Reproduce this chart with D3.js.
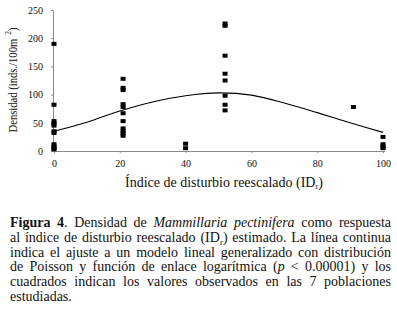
<!DOCTYPE html>
<html>
<head>
<meta charset="utf-8">
<script src="https://cdn.jsdelivr.net/npm/d3@7"></script>
<style>
  body { margin: 0; background: #fff; }
  svg, svg text { font-family: "Liberation Serif", "Times New Roman", Times, "DejaVu Serif", serif; }
</style>
</head>
<body>
<div id="chart"></div>
<script>
// observed densities per site (rescaled disturbance index)
var sites = [0, 21, 40, 52, 91, 100];
var densities = [
    [190, 82, 53, 49, 45, 35, 32, 12, 8, 5, 3],
    [128, 112, 108, 83, 78, 67, 53, 40, 35, 31, 27],
    [13, 5],
    [226, 222, 169, 137, 125, 98, 82, 72],
    [78],
    [25, 12, 8, 5]
];
// fitted GLM curve
var fitX = [0, 10, 20, 30, 40, 50, 60, 70, 80, 90, 100];
var fitY = [35, 51, 71, 87, 98, 103, 99, 85, 68, 50, 33];

var xTicks = [0, 20, 40, 60, 80, 100];
var yTicks = [0, 50, 100, 150, 200, 250];

var caption = [
    [{t: "Figura 4", w: "bold"}, {t: ". Densidad de "}, {t: "Mammillaria pectinifera", s: "italic"}, {t: " como respuesta"}],
    [{t: "al índice de disturbio reescalado (ID"}, {t: "r", sub: true}, {t: ") estimado. La línea continua", back: true}],
    [{t: "indica el ajuste a un modelo lineal generalizado con distribución"}],
    [{t: "de Poisson y función de enlace logarítmica ("}, {t: "p", s: "italic"}, {t: " < 0.00001) y los"}],
    [{t: "cuadrados indican los valores observados en las 7 poblaciones"}],
    [{t: "estudiadas."}]
];

var W = 397, H = 315;
var serif = "'Liberation Serif', 'Times New Roman', Times, 'DejaVu Serif', serif";
var svg = d3.select("#chart").append("svg")
    .attr("width", W)
    .attr("height", H)
    .attr("font-family", serif);

var x = d3.scaleLinear().domain([0, 100]).range([54, 383]);
var y = d3.scaleLinear().domain([0, 250]).range([151, 10]);

// axes
var xAxis = svg.append("g")
    .attr("transform", "translate(0," + y(0) + ")")
    .call(d3.axisBottom(x).tickValues(xTicks).tickSize(2).tickPadding(7).tickSizeOuter(0));
var yAxis = svg.append("g")
    .attr("transform", "translate(" + (x(0) - 1) + ",0)")
    .call(d3.axisLeft(y).tickValues(yTicks).tickSize(2).tickPadding(8).tickSizeOuter(0));

[xAxis, yAxis].forEach(function (g) {
    g.attr("font-family", serif);
    g.select(".domain").attr("stroke", "#8a8a8a");
    g.selectAll(".tick line").attr("stroke", "#8a8a8a");
    g.selectAll(".tick text")
        .attr("fill", "#111")
        .attr("font-size", 10);
});
xAxis.select(".domain").attr("d", "M" + (x(0) - 1) + ",0.5H" + (x(100) + 2));

// fitted curve
var line = d3.line()
    .x(function (d, i) { return x(fitX[i]); })
    .y(function (d) { return y(d); })
    .curve(d3.curveCatmullRom);
svg.append("path")
    .attr("d", line(fitY))
    .attr("fill", "none")
    .attr("stroke", "#000")
    .attr("stroke-width", 1.1);

// observed squares
var pts = [];
sites.forEach(function (s, i) {
    densities[i].forEach(function (v) { pts.push({x: s, y: v}); });
});
svg.append("g").selectAll("rect")
    .data(pts)
    .enter()
    .append("rect")
    .attr("x", function (d) { return x(d.x) - 2.5; })
    .attr("y", function (d) { return y(d.y) - 2; })
    .attr("width", 5)
    .attr("height", 4)
    .attr("fill", "#000");

// axis titles
var xt = svg.append("text")
    .attr("x", 224)
    .attr("y", 187)
    .attr("text-anchor", "middle")
    .attr("font-size", 14)
    .attr("fill", "#111");
xt.append("tspan").text("Índice de disturbio reescalado (ID");
xt.append("tspan").attr("font-size", 8.5).attr("dy", 2).text("r");
xt.append("tspan").attr("dy", -2).text(")");

var yt = svg.append("text")
    .attr("transform", "translate(17,80) rotate(-90)")
    .attr("text-anchor", "middle")
    .attr("font-size", 13)
    .attr("fill", "#111");
yt.append("tspan").text("Densidad (inds./100m");
yt.append("tspan").attr("font-size", 9).attr("dx", 5).attr("dy", -6).text("2");
yt.append("tspan").attr("dy", 6).text(")");
yt.attr("textLength", 105).attr("lengthAdjust", "spacingAndGlyphs");

// caption, justified between 10 and 391
var capLeft = 10, capRight = 391;
caption.forEach(function (parts, i) {
    var t = svg.append("text")
        .attr("x", capLeft)
        .attr("y", 227 + i * 14.8)
        .attr("font-size", 14)
        .attr("fill", "#111");
    parts.forEach(function (p) {
        var sp = t.append("tspan").text(p.t);
        if (p.w) sp.attr("font-weight", p.w);
        if (p.s) sp.attr("font-style", p.s);
        if (p.sub) sp.attr("font-size", 9).attr("dy", 3);
        if (p.back) sp.attr("dy", -3);
    });
    if (i < caption.length - 1) {
        var full = parts.map(function (p) { return p.t; }).join("");
        var gaps = full.split(" ").length - 1;
        var len = t.node().getComputedTextLength();
        t.style("word-spacing", ((capRight - capLeft - len) / gaps) + "px");
    }
});
</script>
</body>
</html>
